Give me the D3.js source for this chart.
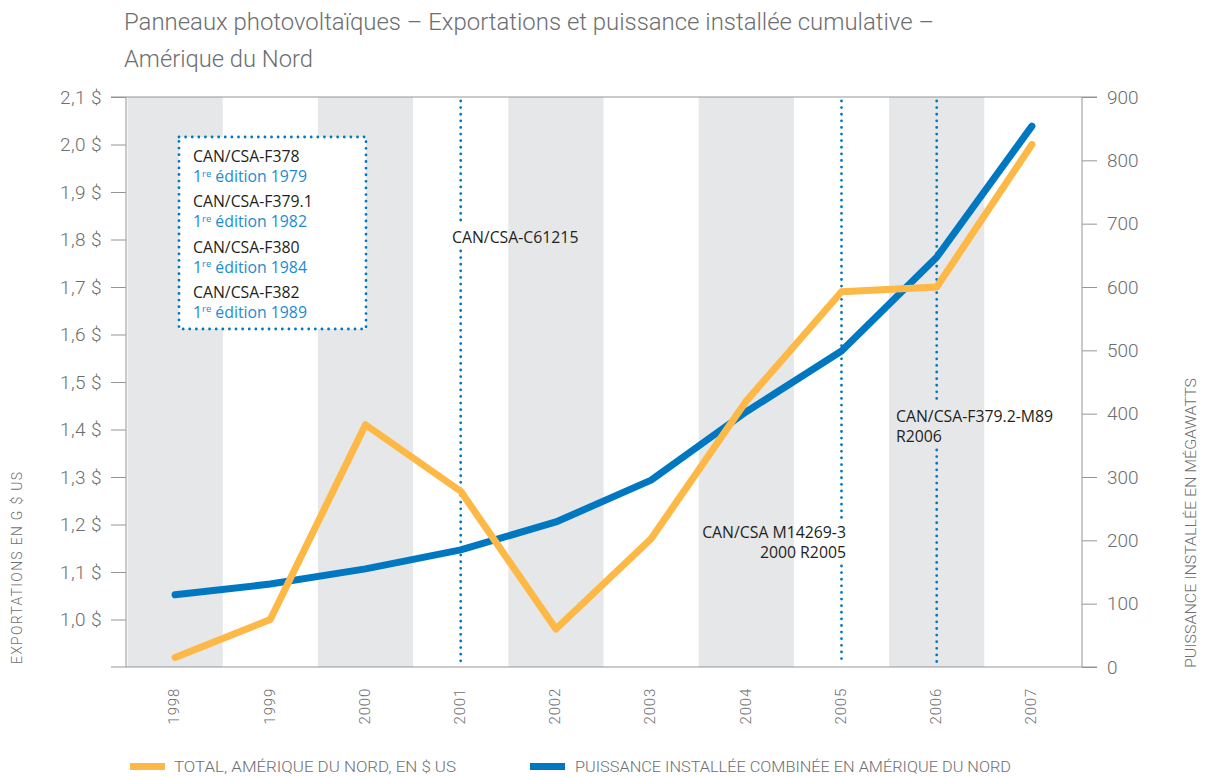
<!DOCTYPE html>
<html>
<head>
<meta charset="utf-8">
<script src="https://cdn.jsdelivr.net/npm/d3@7"></script>
<style>
  html, body { margin: 0; padding: 0; background: #ffffff; }
  svg { display: block; }
</style>
</head>
<body>
<svg id="chart" width="1210" height="776"></svg>
<script>
// ---------- DATA ----------
const years = ["1998","1999","2000","2001","2002","2003","2004","2005","2006","2007"];
const exportsUSD = [0.92, 1.00, 1.41, 1.27, 0.98, 1.17, 1.46, 1.69, 1.70, 2.00]; // G $ US (left axis)
const capacityMW = [114, 131, 155, 185, 229, 295, 403, 499, 647, 854];        // MW (right axis)
const leftTicks = [1.0, 1.1, 1.2, 1.3, 1.4, 1.5, 1.6, 1.7, 1.8, 1.9, 2.0, 2.1];
const rightTicks = [0, 100, 200, 300, 400, 500, 600, 700, 800, 900];
const boxStandards = ["CAN/CSA-F378", "CAN/CSA-F379.1", "CAN/CSA-F380", "CAN/CSA-F382"];
const boxEditions = ["1979", "1982", "1984", "1989"];
const markerYears = ["2001", "2005", "2006"];
const markerLabels = [["CAN/CSA-C61215"], ["CAN/CSA M14269-3", "2000 R2005"], ["CAN/CSA-F379.2-M89", "R2006"]];
const titleLines = ["Panneaux photovoltaïques – Exportations et puissance installée cumulative –", "Amérique du Nord"];
const legendLabels = ["TOTAL, AMÉRIQUE DU NORD, EN $ US", "PUISSANCE INSTALLÉE COMBINÉE EN AMÉRIQUE DU NORD"];
const leftTitle = "EXPORTATIONS EN G $ US";
const rightTitle = "PUISSANCE INSTALLÉE EN MÉGAWATTS";

// ---------- STYLE ----------
const ORANGE = "#fdb846", BLUE = "#0078c1", BAND = "#e6e7e8", AXIS = "#939598",
      TXT = "#6d6e71", DARK = "#231f20", LBLUE = "#1b8cd3";
const UI = "Roboto, 'Liberation Sans', sans-serif";
const MYR = "'Open Sans', 'Noto Sans', sans-serif";
const NOTE_SIZE = 15.8;

const svg = d3.select("#chart");
const yTop = 97, yBot = 667, axL = 126, axR = 1082;

const x = d3.scaleBand().domain(years).range([127.5, 1079.5]).padding(0);
const yL = d3.scaleLinear().domain([0.9, 2.1]).range([yBot, yTop]);
const yR = d3.scaleLinear().domain([0, 900]).range([yBot, yTop]);
const cx = d => x(d) + x.bandwidth() / 2;

// bands
svg.append("g").selectAll("rect")
  .data(years.filter((d, i) => i % 2 === 0))
  .join("rect")
  .attr("x", d => x(d)).attr("y", yTop)
  .attr("width", x.bandwidth()).attr("height", yBot - yTop)
  .attr("fill", BAND);

// left axis
const gL = svg.append("g").attr("transform", `translate(${axL},0)`)
  .call(d3.axisLeft(yL).tickValues(leftTicks).tickSize(15).tickPadding(9)
    .tickFormat(d => d3.format(".1f")(d).replace(".", ",") + " $"));
gL.select(".domain").remove();
gL.append("line").attr("y1", yTop).attr("y2", yBot).attr("stroke", AXIS);
gL.selectAll(".tick line").attr("stroke", AXIS);
gL.selectAll(".tick text").attr("fill", TXT).attr("font-family", UI).attr("font-weight", 300).attr("font-size", 19)
  .attr("letter-spacing", 0.4);

// right axis
const gR = svg.append("g").attr("transform", `translate(${axR},0)`)
  .call(d3.axisRight(yR).tickValues(rightTicks).tickSize(15).tickPadding(10));
gR.select(".domain").remove();
gR.append("line").attr("y1", yTop).attr("y2", yBot).attr("stroke", AXIS);
gR.selectAll(".tick line").attr("stroke", AXIS);
gR.selectAll(".tick text").attr("fill", TXT).attr("font-family", UI).attr("font-weight", 300).attr("font-size", 19);

// top & bottom frame lines
svg.append("line").attr("x1", axL - 15).attr("x2", axR + 15).attr("y1", yTop).attr("y2", yTop).attr("stroke", AXIS);
svg.append("line").attr("x1", axL - 15).attr("x2", axR + 15).attr("y1", yBot).attr("y2", yBot).attr("stroke", AXIS);

// x labels (rotated)
svg.append("g").selectAll("text").data(years).join("text")
  .attr("transform", d => `translate(${cx(d) - 1},688) rotate(-90)`)
  .attr("text-anchor", "end").attr("dy", "0.35em")
  .attr("fill", TXT).attr("font-family", UI).attr("font-weight", 300).attr("font-size", 15)
  .attr("letter-spacing", 0.8)
  .text(d => d);

// marker dotted lines with labels
const labelPos = [
  { x: 452, y: 243, anchor: "start" },
  { x: 846, y: 538, anchor: "end" },
  { x: 896, y: 422, anchor: "start" }
];
const mg = svg.append("g");
markerYears.forEach((yr, i) => {
  const p = labelPos[i];
  const t = mg.append("text").attr("x", p.x).attr("y", p.y)
    .attr("text-anchor", p.anchor).attr("fill", DARK)
    .attr("font-family", MYR).attr("font-size", NOTE_SIZE);
  markerLabels[i].forEach((s, j) => {
    t.append("tspan").attr("x", p.x).attr("dy", j === 0 ? 0 : 20).text(s);
  });
  const bb = t.node().getBBox();
  const gapTop = bb.y - 3, gapBot = bb.y + bb.height + 3;
  [[yTop + 4, gapTop], [gapBot, yBot - 4]].forEach(([a, b]) => {
    mg.insert("line", "text").attr("x1", cx(yr)).attr("x2", cx(yr)).attr("y1", a).attr("y2", b)
      .attr("stroke", BLUE).attr("stroke-width", 2.8)
      .attr("stroke-dasharray", "0.01,6.6").attr("stroke-linecap", "round");
  });
});

// info box
const box = svg.append("g");
box.append("rect").attr("x", 179).attr("y", 137).attr("width", 187).attr("height", 192)
  .attr("fill", "#ffffff").attr("stroke", BLUE).attr("stroke-width", 2.8)
  .attr("stroke-dasharray", "0.01,6.6").attr("stroke-linecap", "round");
boxStandards.forEach((s, i) => {
  const by = 162 + i * 45.3;
  box.append("text").attr("x", 193).attr("y", by).attr("fill", DARK)
    .attr("font-family", MYR).attr("font-size", NOTE_SIZE).text(s);
  const t = box.append("text").attr("x", 193).attr("y", by + 20).attr("fill", LBLUE)
    .attr("font-family", MYR).attr("font-size", NOTE_SIZE);
  t.append("tspan").text("1");
  t.append("tspan").attr("font-size", 9.5).attr("dy", -5.5).text("re");
  t.append("tspan").attr("dy", 5.5).text(" édition " + boxEditions[i]);
});

// lines
const lineL = d3.line().x((d, i) => cx(years[i])).y(d => yL(d));
const lineR = d3.line().x((d, i) => cx(years[i])).y(d => yR(d));
svg.append("path").datum(capacityMW).attr("d", lineR)
  .attr("fill", "none").attr("stroke", BLUE).attr("stroke-width", 7)
  .attr("stroke-linecap", "round").attr("stroke-linejoin", "round");
svg.append("path").datum(exportsUSD).attr("d", lineL)
  .attr("fill", "none").attr("stroke", ORANGE).attr("stroke-width", 7)
  .attr("stroke-linecap", "round").attr("stroke-linejoin", "round");

// title
svg.append("text").attr("x", 124).attr("y", 30).attr("fill", TXT)
  .attr("font-family", UI).attr("font-weight", 300).attr("font-size", 24)
  .attr("textLength", 810).attr("lengthAdjust", "spacingAndGlyphs").text(titleLines[0]);
svg.append("text").attr("x", 124).attr("y", 67).attr("fill", TXT)
  .attr("font-family", UI).attr("font-weight", 300).attr("font-size", 24)
  .attr("textLength", 189).attr("lengthAdjust", "spacingAndGlyphs").text(titleLines[1]);

// axis titles
svg.append("text").attr("transform", "translate(22,568) rotate(-90)")
  .attr("text-anchor", "middle").attr("fill", TXT)
  .attr("font-family", UI).attr("font-weight", 300).attr("font-size", 14)
  .attr("textLength", 192).attr("lengthAdjust", "spacing").text(leftTitle);
svg.append("text").attr("transform", "translate(1196,523) rotate(-90)")
  .attr("text-anchor", "middle").attr("fill", TXT)
  .attr("font-family", UI).attr("font-weight", 300).attr("font-size", 14)
  .attr("textLength", 290).attr("lengthAdjust", "spacingAndGlyphs").text(rightTitle);

// legend
const legItems = [
  { color: ORANGE, sx: 130, tx: 174, len: 282 },
  { color: BLUE, sx: 530, tx: 575, len: 436 }
];
legItems.forEach((it, i) => {
  svg.append("rect").attr("x", it.sx).attr("y", 763).attr("width", 35).attr("height", 7).attr("fill", it.color);
  svg.append("text").attr("x", it.tx).attr("y", 772).attr("fill", TXT)
    .attr("font-family", UI).attr("font-weight", 300).attr("font-size", 15)
    .attr("textLength", it.len).attr("lengthAdjust", "spacingAndGlyphs").text(legendLabels[i]);
});
</script>
</body>
</html>
